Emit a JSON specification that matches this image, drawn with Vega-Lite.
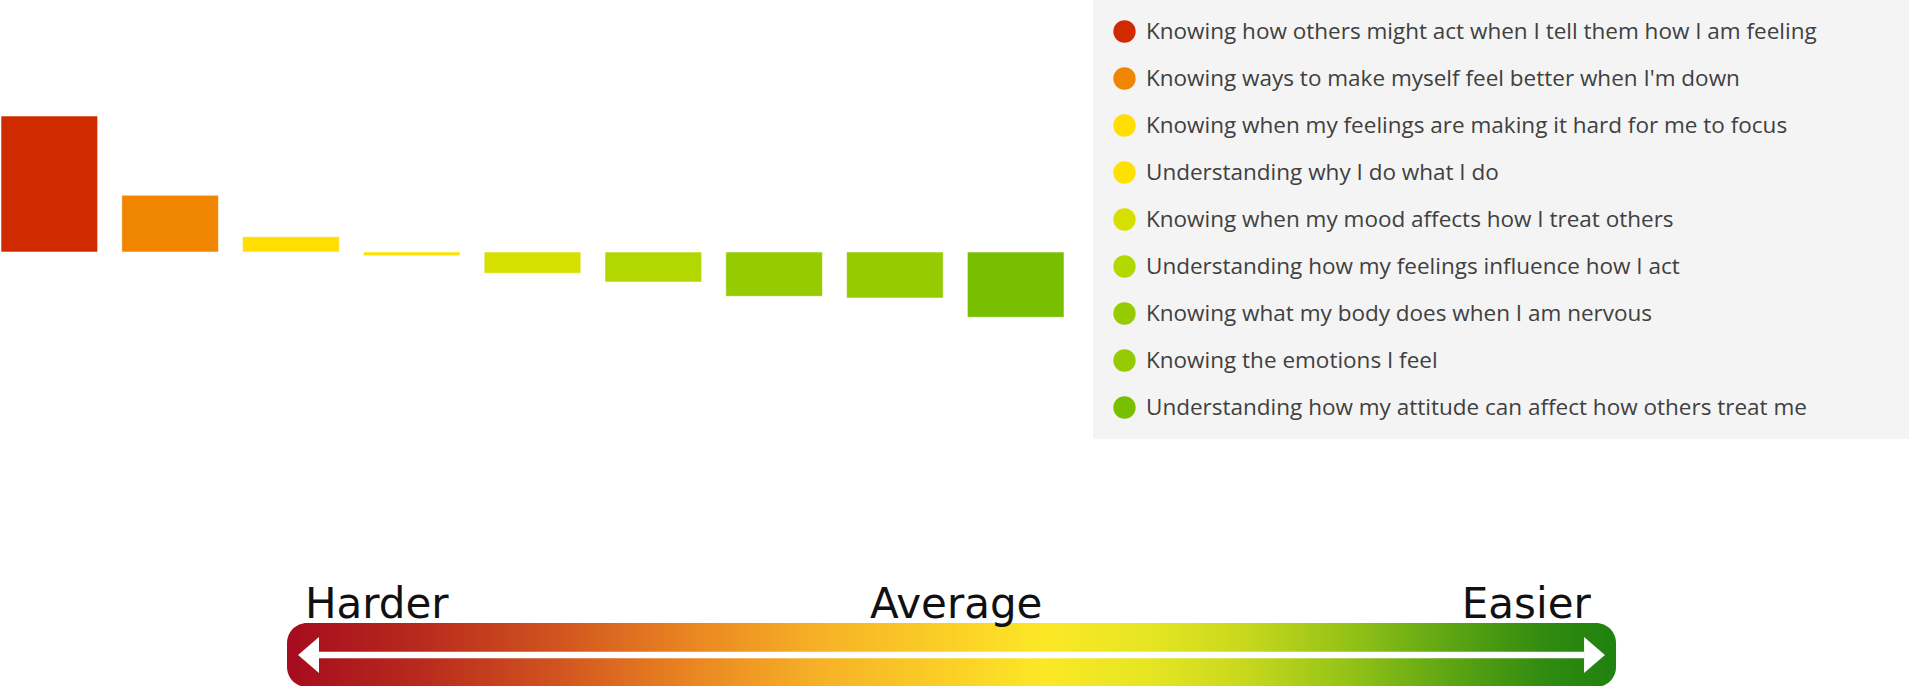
{
  "$schema": "https://vega.github.io/schema/vega-lite/v6.json",
  "padding": 0,
  "background": "white",
  "spacing": 0,
  "config": {"view": {"stroke": null}},
  "resolve": {"scale": {"color": "independent"}, "legend": {"color": "independent"}},
  "vconcat": [
    {
      "width": 1063,
      "height": 438,
      "data": {
        "values": [
          {"item": "Knowing how others might act when I tell them how I am feeling", "score": 13.6},
          {"item": "Knowing ways to make myself feel better when I'm down", "score": 5.67},
          {"item": "Knowing when my feelings are making it hard for me to focus", "score": 1.53},
          {"item": "Understanding why I do what I do", "score": -0.37},
          {"item": "Knowing when my mood affects how I treat others", "score": -2.13},
          {"item": "Understanding how my feelings influence how I act", "score": -3.0},
          {"item": "Knowing what my body does when I am nervous", "score": -4.43},
          {"item": "Knowing the emotions I feel", "score": -4.6},
          {"item": "Understanding how my attitude can affect how others treat me", "score": -6.53}
        ]
      },
      "mark": {"type": "bar", "stroke": "#ffffff", "strokeOpacity": 0.55, "strokeWidth": 1},
      "encoding": {
        "x": {"field": "item", "type": "nominal", "sort": null, "axis": null,
              "scale": {"paddingInner": 0.2, "paddingOuter": 0}},
        "y": {"field": "score", "type": "quantitative", "axis": null,
              "scale": {"domain": [-18.6, 25.2], "nice": false, "zero": false}},
        "color": {
          "field": "item", "type": "nominal", "sort": null,
          "scale": {
            "domain": [
              "Knowing how others might act when I tell them how I am feeling",
              "Knowing ways to make myself feel better when I'm down",
              "Knowing when my feelings are making it hard for me to focus",
              "Understanding why I do what I do",
              "Knowing when my mood affects how I treat others",
              "Understanding how my feelings influence how I act",
              "Knowing what my body does when I am nervous",
              "Knowing the emotions I feel",
              "Understanding how my attitude can affect how others treat me"
            ],
            "range": ["#d02a00", "#ef8500", "#ffde00", "#ffe100", "#d6e000", "#b3d700", "#95cb00", "#95cb00", "#77bf00"]
          },
          "legend": {
            "orient": "right",
            "offset": 29,
            "title": null,
            "padding": 20,
            "fillColor": "#f4f4f4",
            "strokeColor": null,
            "symbolType": "circle",
            "symbolSize": 497,
            "symbolStrokeWidth": 0,
            "symbolOpacity": 1,
            "labelFont": "Open Sans",
            "labelFontSize": 22.5,
            "labelColor": "#404040",
            "labelOffset": 10,
            "labelLimit": 1400,
            "labelExpr": "datum.label + '\u00a0\u00a0\u00a0\u00a0\u00a0\u00a0\u00a0\u00a0\u00a0\u00a0\u00a0\u00a0\u00a0\u200b'",
            "rowPadding": 24
          }
        }
      }
    },
    {
      "width": 1909,
      "height": 248,
      "data": {
        "values": [
          {"label": "Harder", "level": -1},
          {"label": "Average", "level": 0},
          {"label": "Easier", "level": 1}
        ]
      },
      "layer": [
        {
          "transform": [{"filter": "datum.label == 'Average'"}],
          "mark": {
            "type": "rect",
            "cornerRadius": 20,
            "fill": {
              "gradient": "linear", "x1": 0, "y1": 0, "x2": 1, "y2": 0,
              "stops": [
                {"offset": 0, "color": "#a50c1e"},
                {"offset": 0.1, "color": "#b82a1d"},
                {"offset": 0.2, "color": "#d0521f"},
                {"offset": 0.3, "color": "#e98421"},
                {"offset": 0.4, "color": "#f6b127"},
                {"offset": 0.5, "color": "#fbd026"},
                {"offset": 0.57, "color": "#fbe826"},
                {"offset": 0.65, "color": "#e5e522"},
                {"offset": 0.72, "color": "#c8d81d"},
                {"offset": 0.8, "color": "#93c217"},
                {"offset": 0.88, "color": "#5aa313"},
                {"offset": 0.95, "color": "#2f8a10"},
                {"offset": 1, "color": "#1f820f"}
              ]
            }
          },
          "encoding": {
            "x": {"datum": -1, "type": "quantitative", "axis": null,
                  "scale": {"domain": [-1.4304, 1.4424], "nice": false, "zero": false}},
            "x2": {"datum": 1},
            "y": {"datum": -1, "type": "quantitative", "axis": null,
                  "scale": {"domain": [-1, 6.75], "nice": false, "zero": false}},
            "y2": {"datum": 1}
          }
        },
        {
          "transform": [{"filter": "datum.label == 'Average'"}],
          "mark": {"type": "rule", "color": "#ffffff", "strokeWidth": 6.5},
          "encoding": {
            "x": {"datum": -0.952, "type": "quantitative"},
            "x2": {"datum": 0.952},
            "y": {"datum": 0, "type": "quantitative"}
          }
        },
        {
          "transform": [{"filter": "datum.label == 'Harder'"}],
          "mark": {"type": "point", "filled": true, "color": "#ffffff", "opacity": 1, "size": 1296,
                   "shape": "M0.58,-1L-0.58,0L0.58,1Z"},
          "encoding": {
            "x": {"datum": -0.9676, "type": "quantitative"},
            "y": {"datum": 0, "type": "quantitative"}
          }
        },
        {
          "transform": [{"filter": "datum.label == 'Easier'"}],
          "mark": {"type": "point", "filled": true, "color": "#ffffff", "opacity": 1, "size": 1296,
                   "shape": "M-0.58,-1L0.58,0L-0.58,1Z"},
          "encoding": {
            "x": {"datum": 0.9676, "type": "quantitative"},
            "y": {"datum": 0, "type": "quantitative"}
          }
        },
        {
          "transform": [{"filter": "datum.label == 'Harder'"}],
          "mark": {"type": "text", "align": "left", "baseline": "alphabetic", "font": "DejaVu Sans", "fontSize": 42, "color": "#111111"},
          "encoding": {
            "x": {"datum": -0.973, "type": "quantitative"},
            "y": {"datum": 1.15, "type": "quantitative"},
            "text": {"field": "label"}
          }
        },
        {
          "transform": [{"filter": "datum.label == 'Average'"}],
          "mark": {"type": "text", "align": "center", "baseline": "alphabetic", "font": "DejaVu Sans", "fontSize": 42, "color": "#111111"},
          "encoding": {
            "x": {"datum": 0.007, "type": "quantitative"},
            "y": {"datum": 1.15, "type": "quantitative"},
            "text": {"field": "label"}
          }
        },
        {
          "transform": [{"filter": "datum.label == 'Easier'"}],
          "mark": {"type": "text", "align": "right", "baseline": "alphabetic", "font": "DejaVu Sans", "fontSize": 42, "color": "#111111"},
          "encoding": {
            "x": {"datum": 0.962, "type": "quantitative"},
            "y": {"datum": 1.15, "type": "quantitative"},
            "text": {"field": "label"}
          }
        }
      ]
    }
  ]
}
